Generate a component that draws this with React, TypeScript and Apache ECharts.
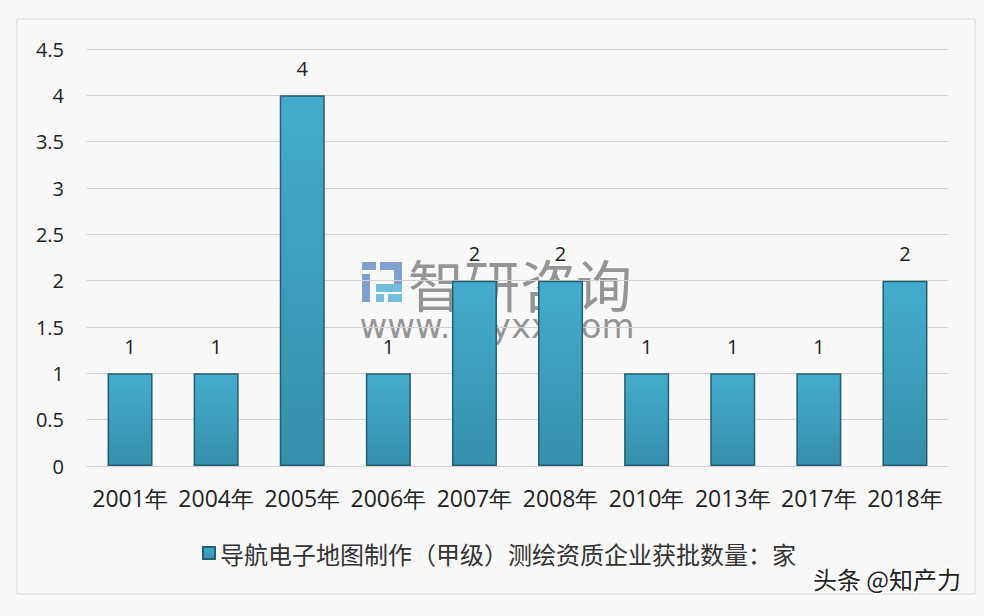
import React, { useEffect, useRef } from "react";
import * as echarts from "echarts";

const categories = ["2001年", "2004年", "2005年", "2006年", "2007年", "2008年", "2010年", "2013年", "2017年", "2018年"];
const values = [1, 1, 4, 1, 2, 2, 1, 1, 1, 2];
const seriesName = "导航电子地图制作（甲级）测绘资质企业获批数量：家";

export default function App() {
  const ref = useRef<HTMLDivElement>(null);
  useEffect(() => {
    const chart = echarts.init(ref.current!, null, { renderer: "svg" });
    const wm = "rgba(110,110,110,0.72)";
    chart.setOption({
      animation: false,
      backgroundColor: "#f8f8f8",
      grid: { left: 87, right: 36, top: 49, bottom: 150 },
      legend: {
        data: [seriesName],
        left: 197,
        top: 536,
        itemWidth: 12,
        itemHeight: 12,
        itemGap: 6,
        icon: "rect",
        textStyle: { fontSize: 24, color: "#333", fontFamily: "Noto Sans CJK SC" },
      },
      xAxis: {
        type: "category",
        data: categories,
        axisLine: { lineStyle: { color: "#d0d0d0" } },
        axisTick: { show: false },
        axisLabel: { interval: 0, fontSize: 23, color: "#222", margin: 20, fontFamily: "Open Sans" },
      },
      yAxis: {
        type: "value",
        min: 0,
        max: 4.5,
        interval: 0.5,
        axisLine: { show: false },
        axisTick: { show: false },
        splitLine: { lineStyle: { color: "#d0d0d0" } },
        axisLabel: { fontSize: 20, color: "#222", margin: 23, fontFamily: "Open Sans" },
      },
      series: [
        {
          name: seriesName,
          type: "bar",
          data: values,
          barWidth: 45,
          itemStyle: {
            color: new echarts.graphic.LinearGradient(0, 0, 0, 1, [
              { offset: 0, color: "#45abcd" },
              { offset: 1, color: "#3590ab" },
            ]),
            borderColor: "#245e70",
            borderWidth: 1.5,
          },
          label: {
            show: true,
            position: "top",
            distance: 17,
            fontSize: 20,
            color: "#222",
            fontFamily: "Open Sans",
          },
        },
      ],
      graphic: [
        {
          type: "rect",
          shape: { x: 17, y: 19, width: 958, height: 575 },
          style: { fill: "none", stroke: "#d6d6d6", lineWidth: 1 },
          z: -1,
        },
        {
          type: "group",
          z: 100,
          children: [
            { type: "rect", shape: { x: 362, y: 262, width: 14, height: 8 }, style: { fill: "rgba(90,130,190,0.75)" } },
            { type: "rect", shape: { x: 380, y: 262, width: 22, height: 8 }, style: { fill: "rgba(90,130,190,0.75)" } },
            { type: "rect", shape: { x: 362, y: 274, width: 8, height: 28 }, style: { fill: "rgba(90,130,190,0.75)" } },
            { type: "rect", shape: { x: 394, y: 270, width: 8, height: 14 }, style: { fill: "rgba(90,130,190,0.75)" } },
            { type: "rect", shape: { x: 376, y: 284, width: 26, height: 8 }, style: { fill: "rgba(70,170,210,0.75)" } },
            { type: "rect", shape: { x: 376, y: 294, width: 8, height: 8 }, style: { fill: "rgba(70,170,210,0.75)" } },
            { type: "rect", shape: { x: 388, y: 294, width: 14, height: 8 }, style: { fill: "rgba(70,170,210,0.75)" } },
            {
              type: "text",
              style: {
                x: 408, y: 282, text: "智研咨询", fontSize: 56,
                fontFamily: "Noto Sans CJK SC", fill: wm,
                verticalAlign: "middle", textAlign: "left",
              },
            },
            {
              type: "text",
              style: {
                x: 497, y: 326, text: "www.chyxx.com", fontSize: 34,
                fontFamily: "DejaVu Sans", fill: wm,
                verticalAlign: "middle", textAlign: "center",
              },
            },
          ],
        },
        {
          type: "text",
          z: 100,
          style: {
            x: 887, y: 578, text: "头条 @知产力", fontSize: 24,
            fontFamily: "Noto Sans CJK SC", fill: "#222",
            stroke: "#ffffff", lineWidth: 3,
            verticalAlign: "middle", textAlign: "center",
          },
        },
      ],
    });
    return () => chart.dispose();
  }, []);
  return (
    <div
      ref={ref}
      style={{ position: "absolute", left: 0, top: 0, width: 984, height: 616 }}
    />
  );
}
